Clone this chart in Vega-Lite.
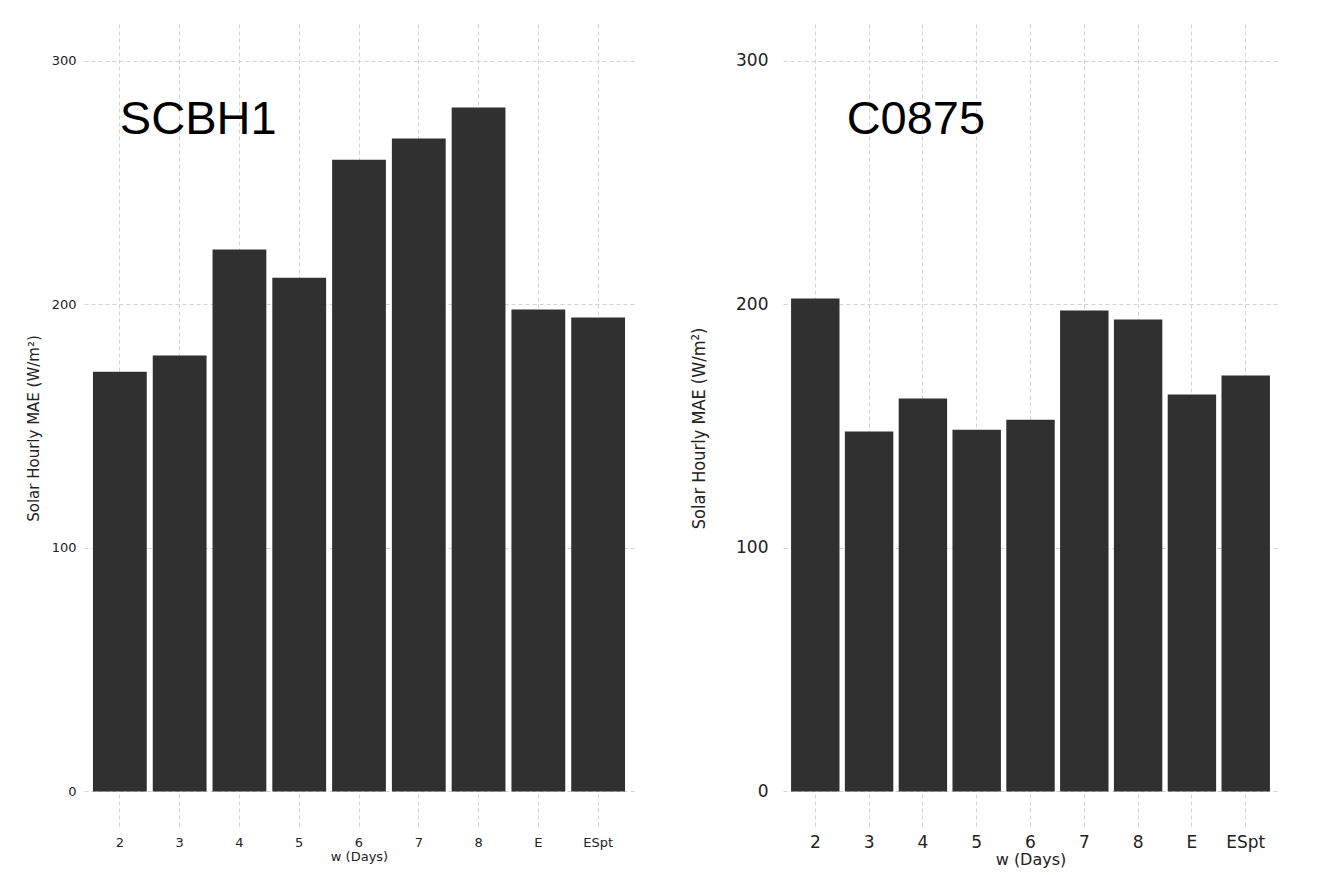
{
  "$schema": "https://vega.github.io/schema/vega-lite/v6.json",
  "background": "white",
  "padding": {"left": 26, "top": 24, "right": 5, "bottom": 2},
  "spacing": 56,
  "datasets": {
    "bars": [
      {"site": "SCBH1", "w": "2", "mae": 172.3},
      {"site": "SCBH1", "w": "3", "mae": 178.9},
      {"site": "SCBH1", "w": "4", "mae": 222.4},
      {"site": "SCBH1", "w": "5", "mae": 210.9},
      {"site": "SCBH1", "w": "6", "mae": 259.3},
      {"site": "SCBH1", "w": "7", "mae": 268.0},
      {"site": "SCBH1", "w": "8", "mae": 280.7},
      {"site": "SCBH1", "w": "E", "mae": 197.8},
      {"site": "SCBH1", "w": "ESpt", "mae": 194.5},
      {"site": "C0875", "w": "2", "mae": 202.3},
      {"site": "C0875", "w": "3", "mae": 147.7},
      {"site": "C0875", "w": "4", "mae": 161.3},
      {"site": "C0875", "w": "5", "mae": 148.5},
      {"site": "C0875", "w": "6", "mae": 152.6},
      {"site": "C0875", "w": "7", "mae": 197.4},
      {"site": "C0875", "w": "8", "mae": 193.7},
      {"site": "C0875", "w": "E", "mae": 162.9},
      {"site": "C0875", "w": "ESpt", "mae": 170.7}
    ],
    "labels": [
      {"site": "SCBH1", "w": "2", "y": 270},
      {"site": "C0875", "w": "4", "y": 270}
    ]
  },
  "config": {
    "view": {"stroke": null},
    "axis": {
      "domain": false,
      "ticks": false,
      "grid": true,
      "gridColor": "#d2d2d2",
      "gridDash": [4, 3],
      "gridWidth": 1,
      "labelColor": "#222222",
      "titleColor": "#222222",
      "titleFontWeight": "normal"
    }
  },
  "hconcat": [
    {
      "width": 550,
      "height": 804,
      "layer": [
        {
          "data": {"name": "bars"},
          "transform": [{"filter": "datum.site === 'SCBH1'"}],
          "mark": {"type": "bar", "color": "#303030"},
          "encoding": {
            "x": {
              "field": "w", "type": "nominal",
              "sort": ["2", "3", "4", "5", "6", "7", "8", "E", "ESpt"],
              "scale": {"paddingInner": 0.1, "paddingOuter": 0.15},
              "axis": {
                "title": "w (Days)", "labelAngle": 0, "bandPosition": 0.5,
                "labelFont": "DejaVu Sans", "labelFontSize": 13, "labelPadding": 8,
                "titleFont": "DejaVu Sans", "titleFontSize": 13, "titlePadding": 1
              }
            },
            "y": {
              "field": "mae", "type": "quantitative",
              "scale": {"domain": [-15, 315], "nice": false, "zero": false},
              "axis": {
                "title": "Solar Hourly MAE (W/m²)", "values": [0, 100, 200, 300],
                "labelFont": "DejaVu Sans", "labelFontSize": 13, "labelPadding": 8,
                "titleFont": "DejaVu Sans", "titleFontSize": 15,
                "titleX": -51, "titleY": 404, "titleBaseline": "middle"
              }
            }
          }
        },
        {
          "data": {"name": "labels"},
          "transform": [{"filter": "datum.site === 'SCBH1'"}],
          "mark": {"type": "text", "font": "Liberation Sans", "fontSize": 47, "align": "left", "baseline": "alphabetic", "color": "#000000"},
          "encoding": {
            "x": {"field": "w", "type": "nominal"},
            "y": {"field": "y", "type": "quantitative"},
            "text": {"field": "site"}
          }
        }
      ]
    },
    {
      "width": 495,
      "height": 804,
      "layer": [
        {
          "data": {"name": "bars"},
          "transform": [{"filter": "datum.site === 'C0875'"}],
          "mark": {"type": "bar", "color": "#303030"},
          "encoding": {
            "x": {
              "field": "w", "type": "nominal",
              "sort": ["2", "3", "4", "5", "6", "7", "8", "E", "ESpt"],
              "scale": {"paddingInner": 0.1, "paddingOuter": 0.15},
              "axis": {
                "title": "w (Days)", "labelAngle": 0, "bandPosition": 0.5,
                "labelFont": "DejaVu Sans", "labelFontSize": 17, "labelPadding": 6,
                "titleFont": "DejaVu Sans", "titleFontSize": 16, "titlePadding": 1
              }
            },
            "y": {
              "field": "mae", "type": "quantitative",
              "scale": {"domain": [-15, 315], "nice": false, "zero": false},
              "axis": {
                "title": "Solar Hourly MAE (W/m²)", "values": [0, 100, 200, 300],
                "labelFont": "DejaVu Sans", "labelFontSize": 17, "labelPadding": 15,
                "titleFont": "DejaVu Sans Condensed", "titleFontSize": 18,
                "titleX": -84, "titleY": 404, "titleBaseline": "middle"
              }
            }
          }
        },
        {
          "data": {"name": "labels"},
          "transform": [{"filter": "datum.site === 'C0875'"}],
          "mark": {"type": "text", "font": "Liberation Sans", "fontSize": 47, "align": "center", "baseline": "alphabetic", "dx": -7, "color": "#000000"},
          "encoding": {
            "x": {"field": "w", "type": "nominal"},
            "y": {"field": "y", "type": "quantitative"},
            "text": {"field": "site"}
          }
        }
      ]
    }
  ]
}
